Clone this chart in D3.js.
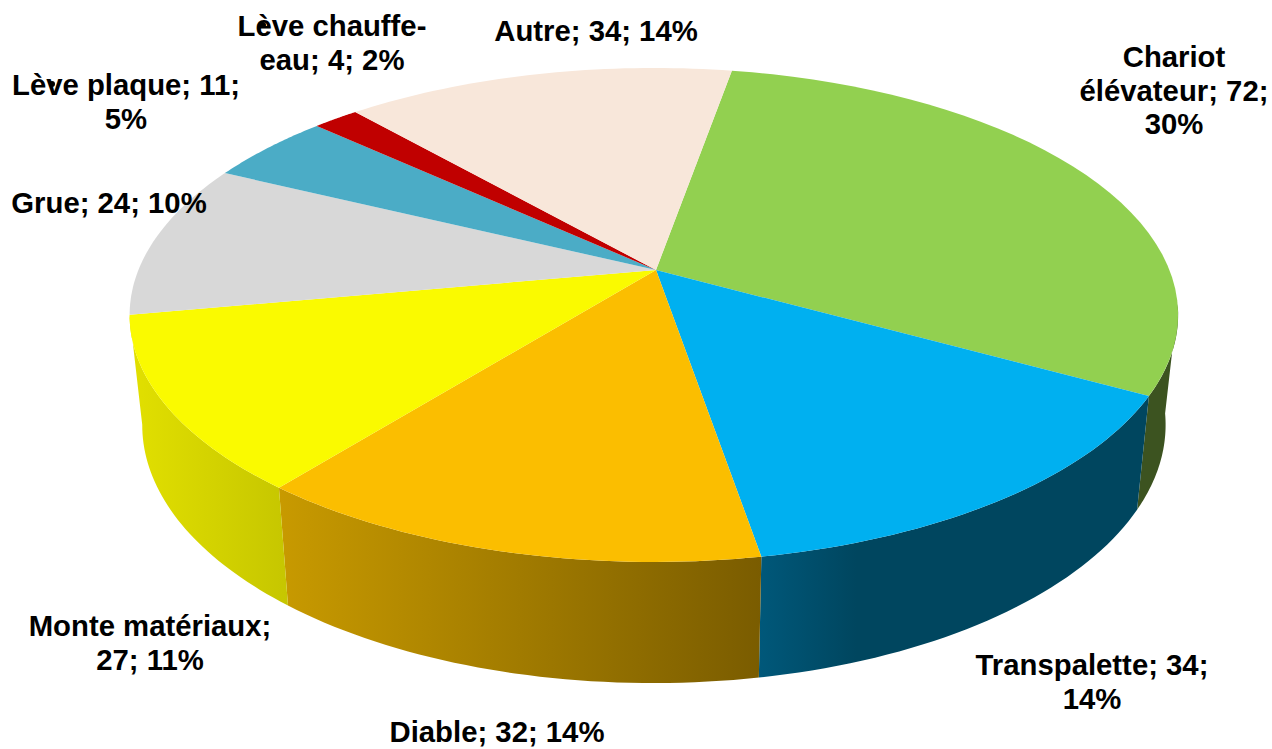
<!DOCTYPE html>
<html><head><meta charset="utf-8">
<style>html,body{margin:0;padding:0;background:#fff}svg{display:block}</style>
<script src="https://cdn.jsdelivr.net/npm/d3@7"></script>
</head><body><svg id="c" width="1272" height="749"></svg>
<script>
const categories = ["Chariot élévateur","Transpalette","Diable","Monte matériaux","Grue","Lève plaque","Lève chauffe-eau","Autre"];
const values = [72,34,32,27,24,11,4,34];
const percents = [30,14,14,11,10,5,2,14];
const topColors = ["#92D050","#00B0F0","#FBBE00","#FAFA00","#D8D8D8","#4BACC6","#C00000","#F8E7DA"];
const sideLeft = ["#3C5320","#00587A","#C89A00","#E2E000","#888","#888","#888","#888"];
const sideRight = ["#3C5320","#00465F","#7A5C00","#C6C600","#888","#888","#888","#888"];
const sideBend = [0.5,0.25,0.5,0.5,0.5,0.5,0.5,0.5];
const labelLines = [
 ["Chariot","élévateur; 72;","30%"],["Transpalette; 34;","14%"],["Diable; 32; 14%"],
 ["Monte matériaux;","27; 11%"],["Grue; 24; 10%"],["Lève plaque; 11;","5%"],
 ["Lève chauffe-","eau; 4; 2%"],["Autre; 34; 14%"]];
const labelX = [1174,1092,497,150,109,126,332,596];
const labelY = [67,675,742,636,213,95,36,41];
const lineGap = 33.5;
const accentBlobs = [[263,25],[52,84]];

const cx=656, cy=270, X=515.5, Y=238.8, K=0.182, L=0.004, depthX=0.976, depthA=108, depthB=1.045;
const start=10*Math.PI/180;
const arcs=d3.pie().sort(null).value(d=>d).startAngle(start).endAngle(start+2*Math.PI)(values);
const px=a=>{const c=Math.sin(a),s=-Math.cos(a),w=1-K*s+L*c;return [X*c/w,Y*s/w];};
const topPt=a=>{const p=px(a);return [cx+p[0],cy+p[1]];};
const botPt=a=>{const p=px(a);return [cx+depthX*p[0],cy+depthA+depthB*p[1]];};
const samples=(a,b)=>d3.range(0,41).map(i=>a+(b-a)*i/40);
const line=d3.line();
const svg=d3.select("#c");
const defs=svg.append("defs");
const visA=98*Math.PI/180, visB=arcs[3].endAngle;

arcs.forEach((d,i)=>{
  const a=Math.max(d.startAngle,visA), b=Math.min(d.endAngle,visB);
  if(b<=a) return;
  const T=samples(a,b).map(topPt), B=samples(a,b).map(botPt).reverse();
  const pts=T.concat(B), xs=d3.extent(pts,p=>p[0]);
  const g=defs.append("linearGradient").attr("id","side"+i).attr("gradientUnits","userSpaceOnUse")
    .attr("x1",xs[0]).attr("x2",xs[1]).attr("y1",0).attr("y2",0);
  const mid=d3.interpolateRgb(sideLeft[i],sideRight[i])(0.5);
  g.append("stop").attr("offset",0).attr("stop-color",sideLeft[i]);
  g.append("stop").attr("offset",sideBend[i]).attr("stop-color",i===1?sideRight[i]:mid);
  g.append("stop").attr("offset",1).attr("stop-color",sideRight[i]);
  svg.append("path").attr("d",line(pts)+"Z").attr("fill",`url(#side${i})`);
});
arcs.forEach((d,i)=>{
  const pts=[[cx,cy]].concat(samples(d.startAngle,d.endAngle).map(topPt));
  svg.append("path").attr("d",line(pts)+"Z").attr("fill",topColors[i]);
});
categories.forEach((c,i)=>{
  const t=svg.append("text").attr("text-anchor","middle")
    .attr("font-family","'Liberation Sans',Arial,sans-serif").attr("font-weight","700")
    .attr("font-size",29.3).attr("fill","#000");
  labelLines[i].forEach((s,j)=>t.append("tspan").attr("x",labelX[i]).attr("y",labelY[i]+j*lineGap).text(s));
});
svg.selectAll("circle.blob").data(accentBlobs).join("circle").attr("class","blob")
  .attr("cx",d=>d[0]).attr("cy",d=>d[1]).attr("r",3).attr("fill","#000");
</script></body></html>
